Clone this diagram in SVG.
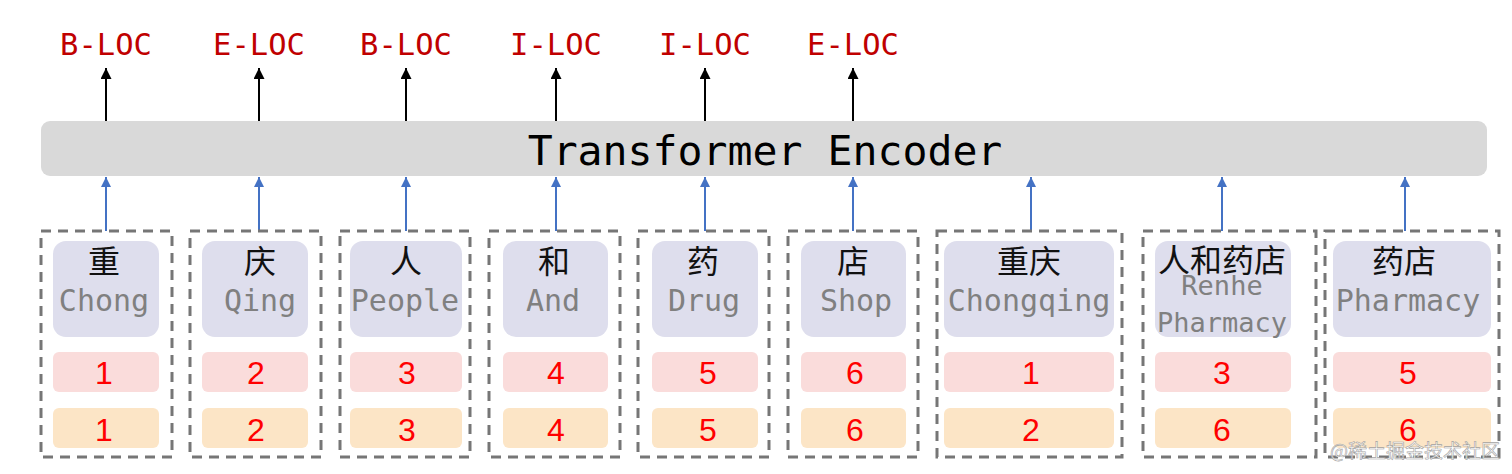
<svg xmlns="http://www.w3.org/2000/svg" width="1512" height="474" viewBox="0 0 1512 474">
<defs>
<marker id="ab" markerWidth="12" markerHeight="12" refX="11" refY="5.5" orient="auto" markerUnits="userSpaceOnUse"><path d="M0,0 L11,5.5 L0,11 z" fill="#000"/></marker>
<marker id="au" markerWidth="12" markerHeight="10" refX="10" refY="5" orient="auto" markerUnits="userSpaceOnUse"><path d="M0,0 L10,5 L0,10 z" fill="#4472c4"/></marker>
</defs>
<style>
.lab{font-family:"DejaVu Sans Mono","Liberation Mono",monospace;font-size:30.5px;fill:#c00000;text-anchor:middle}
.enc{font-family:"DejaVu Sans Mono","Liberation Mono",monospace;font-size:41.5px;fill:#000;text-anchor:middle}
.dash{fill:none;stroke:#767676;stroke-width:3;stroke-dasharray:10 7}
.tok{fill:#dedeed}
.pos{fill:#fadcdb}
.seg{fill:#fce5c6}
.zh{font-family:"Noto Sans CJK SC",sans-serif;font-size:32px;fill:#111;text-anchor:middle}
.en{font-family:"DejaVu Sans Mono","Liberation Mono",monospace;font-size:30px;fill:#808080;text-anchor:middle}
.en2{font-family:"DejaVu Sans Mono","Liberation Mono",monospace;font-size:27px;fill:#808080;text-anchor:middle}
.num{font-family:"Liberation Sans",Arial,sans-serif;font-size:32px;fill:#ff0000;text-anchor:middle}
.ca{stroke:#000;stroke-width:2;marker-end:url(#ab)}
.cb{stroke:#4472c4;stroke-width:2;marker-end:url(#au)}
</style>
<rect width="1512" height="474" fill="#fff"/>

<g id="labels">
<text class="lab" x="106" y="55">B-LOC</text>
<text class="lab" x="259" y="55">E-LOC</text>
<text class="lab" x="406" y="55">B-LOC</text>
<text class="lab" x="556" y="55">I-LOC</text>
<text class="lab" x="705" y="55">I-LOC</text>
<text class="lab" x="853" y="55">E-LOC</text>
</g>

<g id="encoder">
<rect x="41" y="121" width="1446" height="55" rx="9" fill="#d9d9d9"/>
<text class="enc" x="765" y="165">Transformer Encoder</text>
</g>

<g id="connectors">
<line class="ca" x1="106" y1="121" x2="106" y2="68"/>
<line class="ca" x1="259" y1="121" x2="259" y2="68"/>
<line class="ca" x1="406" y1="121" x2="406" y2="68"/>
<line class="ca" x1="556" y1="121" x2="556" y2="68"/>
<line class="ca" x1="705" y1="121" x2="705" y2="68"/>
<line class="ca" x1="853" y1="121" x2="853" y2="68"/>
<line class="cb" x1="106" y1="231" x2="106" y2="177"/>
<line class="cb" x1="259" y1="231" x2="259" y2="177"/>
<line class="cb" x1="406" y1="231" x2="406" y2="177"/>
<line class="cb" x1="556" y1="231" x2="556" y2="177"/>
<line class="cb" x1="705" y1="231" x2="705" y2="177"/>
<line class="cb" x1="853" y1="231" x2="853" y2="177"/>
<line class="cb" x1="1031" y1="231" x2="1031" y2="177"/>
<line class="cb" x1="1222" y1="231" x2="1222" y2="177"/>
<line class="cb" x1="1405" y1="231" x2="1405" y2="177"/>
</g>

<g id="t1">
<rect class="dash" x="41" y="231" width="131" height="226"/>
<rect class="tok" x="53" y="241" width="106" height="96" rx="13"/>
<rect class="pos" x="53" y="352" width="106" height="40" rx="6"/>
<rect class="seg" x="53" y="408" width="106" height="40" rx="6"/>
<text class="zh" x="104" y="273">重</text>
<text class="en" x="104" y="311">Chong</text>
<text class="num" x="104" y="384">1</text>
<text class="num" x="104" y="441">1</text>
</g>
<g id="t2">
<rect class="dash" x="190" y="231" width="131" height="226"/>
<rect class="tok" x="202" y="241" width="106" height="96" rx="13"/>
<rect class="pos" x="202" y="352" width="106" height="40" rx="6"/>
<rect class="seg" x="202" y="408" width="106" height="40" rx="6"/>
<text class="zh" x="260" y="273">庆</text>
<text class="en" x="260" y="311">Qing</text>
<text class="num" x="256" y="384">2</text>
<text class="num" x="256" y="441">2</text>
</g>
<g id="t3">
<rect class="dash" x="340" y="231" width="130" height="226"/>
<rect class="tok" x="350" y="241" width="112" height="96" rx="13"/>
<rect class="pos" x="350" y="352" width="112" height="40" rx="6"/>
<rect class="seg" x="350" y="408" width="112" height="40" rx="6"/>
<text class="zh" x="406" y="273">人</text>
<text class="en" x="405" y="311">People</text>
<text class="num" x="407" y="384">3</text>
<text class="num" x="407" y="441">3</text>
</g>
<g id="t4">
<rect class="dash" x="489" y="231" width="131" height="226"/>
<rect class="tok" x="503" y="241" width="105" height="96" rx="13"/>
<rect class="pos" x="503" y="352" width="105" height="40" rx="6"/>
<rect class="seg" x="503" y="408" width="105" height="40" rx="6"/>
<text class="zh" x="554" y="273">和</text>
<text class="en" x="553" y="311">And</text>
<text class="num" x="556" y="384">4</text>
<text class="num" x="556" y="441">4</text>
</g>
<g id="t5">
<rect class="dash" x="638" y="231" width="131" height="226"/>
<rect class="tok" x="652" y="241" width="106" height="96" rx="13"/>
<rect class="pos" x="652" y="352" width="106" height="40" rx="6"/>
<rect class="seg" x="652" y="408" width="106" height="40" rx="6"/>
<text class="zh" x="703" y="273">药</text>
<text class="en" x="704" y="311">Drug</text>
<text class="num" x="708" y="384">5</text>
<text class="num" x="708" y="441">5</text>
</g>
<g id="t6">
<rect class="dash" x="788" y="231" width="130" height="226"/>
<rect class="tok" x="801" y="241" width="105" height="96" rx="13"/>
<rect class="pos" x="801" y="352" width="105" height="40" rx="6"/>
<rect class="seg" x="801" y="408" width="105" height="40" rx="6"/>
<text class="zh" x="853" y="273">店</text>
<text class="en" x="856" y="311">Shop</text>
<text class="num" x="855" y="384">6</text>
<text class="num" x="855" y="441">6</text>
</g>
<g id="t7">
<rect class="dash" x="937" y="231" width="185" height="226"/>
<rect class="tok" x="944" y="241" width="170" height="96" rx="13"/>
<rect class="pos" x="944" y="352" width="170" height="40" rx="6"/>
<rect class="seg" x="944" y="408" width="170" height="40" rx="6"/>
<text class="zh" x="1029" y="273">重庆</text>
<text class="en" x="1029" y="311">Chongqing</text>
<text class="num" x="1031" y="384">1</text>
<text class="num" x="1031" y="441">2</text>
</g>
<g id="t8">
<rect class="dash" x="1143" y="231" width="173" height="226"/>
<rect class="tok" x="1155" y="241" width="136" height="96" rx="13"/>
<rect class="pos" x="1155" y="352" width="136" height="40" rx="6"/>
<rect class="seg" x="1155" y="408" width="136" height="40" rx="6"/>
<text class="zh" x="1222" y="272">人和药店</text>
<text class="en2" x="1222" y="295">Renhe</text>
<text class="en2" x="1222" y="332">Pharmacy</text>
<text class="num" x="1222" y="384">3</text>
<text class="num" x="1222" y="441">6</text>
</g>
<g id="t9">
<rect class="dash" x="1325" y="231" width="174" height="226"/>
<rect class="tok" x="1333" y="241" width="158" height="96" rx="13"/>
<rect class="pos" x="1333" y="352" width="158" height="40" rx="6"/>
<rect class="seg" x="1333" y="408" width="158" height="40" rx="6"/>
<text class="zh" x="1404" y="273">药店</text>
<text class="en" x="1408" y="311">Pharmacy</text>
<text class="num" x="1408" y="384">5</text>
<text class="num" x="1408" y="441">6</text>
</g>

<text x="1500" y="458" text-anchor="end" font-family="Noto Sans CJK SC, sans-serif" font-size="19" fill="#ffffff" stroke="#9a9a9a" stroke-width="0.6" opacity="0.9">@稀土掘金技术社区</text>
</svg>
